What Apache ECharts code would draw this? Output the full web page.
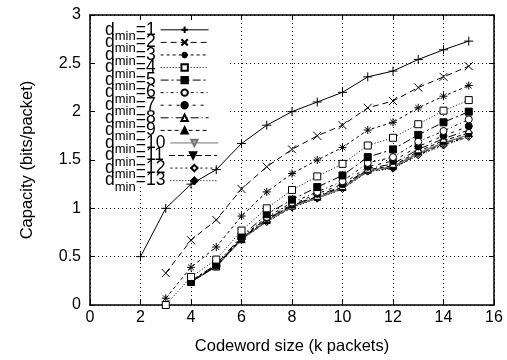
<!DOCTYPE html>
<html>
<head>
<meta charset="utf-8">
<script src="https://cdn.jsdelivr.net/npm/echarts@6/dist/echarts.min.js"></script>
<style>html,body{margin:0;padding:0;background:#fff;}#c{width:507px;height:360px;}</style>
</head>
<body>
<div id="c"></div>
<script>
// Codeword sizes (k packets)
const xFrom2 = [2,3,4,5,6,7,8,9,10,11,12,13,14,15];
const xFrom3 = [3,4,5,6,7,8,9,10,11,12,13,14,15];
const xFrom4 = [4,5,6,7,8,9,10,11,12,13,14,15];
const xTicks = [0,2,4,6,8,10,12,14,16];
const yTicks = [0,0.5,1,1.5,2,2.5,3];

const d1  = [0.5, 1.0, 1.25, 1.4, 1.67, 1.86, 2.0, 2.1, 2.2, 2.36, 2.42, 2.54, 2.64, 2.73];
const d2  = [0.33, 0.67, 0.88, 1.2, 1.43, 1.61, 1.75, 1.86, 2.04, 2.11, 2.25, 2.36, 2.47];
const d3  = [0.07, 0.39, 0.6, 0.92, 1.17, 1.36, 1.5, 1.63, 1.81, 1.89, 2.04, 2.16, 2.27];
const d4  = [0.0, 0.29, 0.47, 0.77, 1.0, 1.19, 1.33, 1.46, 1.65, 1.73, 1.87, 2.01, 2.12];
const d5  = [0.25, 0.42, 0.71, 0.94, 1.09, 1.22, 1.34, 1.53, 1.61, 1.76, 1.89, 2.0];
const d6  = [0.25, 0.41, 0.7, 0.91, 1.06, 1.17, 1.28, 1.47, 1.53, 1.69, 1.8, 1.92];
const d7  = [0.24, 0.41, 0.69, 0.9, 1.04, 1.15, 1.25, 1.43, 1.49, 1.64, 1.75, 1.85];
const d8  = [0.24, 0.4, 0.69, 0.89, 1.03, 1.13, 1.23, 1.41, 1.46, 1.61, 1.72, 1.81];
const d9  = [0.24, 0.4, 0.68, 0.88, 1.03, 1.12, 1.22, 1.4, 1.44, 1.59, 1.7, 1.78];
const d10 = [0.24, 0.4, 0.68, 0.87, 1.02, 1.11, 1.21, 1.39, 1.43, 1.57, 1.68, 1.76];
const d11 = [0.24, 0.4, 0.68, 0.87, 1.02, 1.11, 1.21, 1.39, 1.42, 1.56, 1.67, 1.75];
const d12 = [0.24, 0.4, 0.68, 0.86, 1.01, 1.11, 1.2, 1.38, 1.42, 1.55, 1.66, 1.74];
const d13 = [0.24, 0.4, 0.68, 0.86, 1.01, 1.1, 1.2, 1.38, 1.41, 1.55, 1.65, 1.74];

const seriesNames = ['1','2','3','4','5','6','7','8','9','10','11','12','13'];
const seriesX = [xFrom2, xFrom3, xFrom3, xFrom3, xFrom4, xFrom4, xFrom4, xFrom4, xFrom4, xFrom4, xFrom4, xFrom4, xFrom4];
const seriesY = [d1,d2,d3,d4,d5,d6,d7,d8,d9,d10,d11,d12,d13];

const PLUS = 'path://M5,0L5,10M0,5L10,5';
const CROSS = 'path://M0,0L10,10M10,0L0,10';
const STAR = 'path://M5,0L5,10M0,5L10,5M1.5,1.5L8.5,8.5M8.5,1.5L1.5,8.5';
const INVTRI = 'path://M0,0L10,0L5,9Z';

const styles = [
  {dash:'solid', sym:PLUS, size:9, fill:'none', stroke:true},
  {dash:[6,4], sym:CROSS, size:8, fill:'none', stroke:true},
  {dash:[3,3], sym:STAR, size:8, fill:'none', stroke:true},
  {dash:[1,2], sym:'rect', size:7, fill:'#fff'},
  {dash:[8,3,2,3], sym:'rect', size:7, fill:'#000'},
  {dash:[3,3,1,3], sym:'circle', size:7, fill:'#fff'},
  {dash:[3,5], sym:'circle', size:7, fill:'#000'},
  {dash:[8,3,1,3], sym:'triangle', size:7, fill:'#fff'},
  {dash:[4,3], sym:'triangle', size:7, fill:'#000'},
  {dash:'solid', sym:INVTRI, size:7, fill:'#aaa', color:'#777', width:1.5},
  {dash:[6,3], sym:INVTRI, size:7, fill:'#000'},
  {dash:[2,3], sym:'diamond', size:7, fill:'#fff'},
  {dash:[1,2], sym:'diamond', size:7, fill:'#000'}
];

const series = seriesNames.map((n, i) => {
  const s = styles[i];
  const c = s.color || '#000';
  return {
    name: n,
    type: 'line',
    data: seriesX[i].map((x, j) => [x, seriesY[i][j]]),
    symbol: s.sym,
    symbolSize: s.size,
    symbolKeepAspect: true,
    showAllSymbol: true,
    z: 20 - i,
    lineStyle: {color: c, width: s.width || 1, type: s.dash},
    itemStyle: {color: s.fill, borderColor: s.stroke ? '#000' : (s.color || '#000'), borderWidth: 1, opacity: 1},
    emphasis: {disabled: true},
    animation: false
  };
});

const FONT = 'Liberation Sans';
const KEY_TOP = 29.3, KEY_STEP = 12.57;
const legends = seriesNames.map((n, i) => ({
  orient: 'vertical',
  left: 105, top: KEY_TOP + i * KEY_STEP - 12.5,
  z: 4,
  align: 'right',
  itemWidth: 48, itemHeight: 8,
  padding: 0,
  data: [n],
  selectedMode: false,
  lineStyle: {width: 1},
  formatter: (nm) => '{d|d}{s|min}{d|=' + nm + '}',
  textStyle: {
    width: 62, align: 'right', color: '#000', fontFamily: FONT,
    rich: {
      d: {fontSize: 17.5, lineHeight: 12, fontFamily: FONT, color: '#000'},
      s: {fontSize: 13, lineHeight: 12, padding: [13, 0, 0, 0], fontFamily: FONT, color: '#000'}
    }
  }
}));

const chart = echarts.init(document.getElementById('c'), null, {renderer: 'canvas'});
chart.setOption({
  animation: false,
  backgroundColor: '#fff',
  textStyle: {fontFamily: FONT, color: '#000'},
  grid: {left: 90, right: 13, top: 15, bottom: 52, containLabel: false},
  graphic: [{
    type: 'rect', z: 1, silent: true,
    shape: {x: 95, y: 23, width: 133, height: 164},
    style: {fill: '#fff'}
  }],
  legend: legends,
  xAxis: [{
    type: 'value', min: 0, max: 16, interval: 2,
    name: 'Codeword size (k packets)', nameLocation: 'middle', nameGap: 33,
    nameTextStyle: {fontSize: 16.5, fontFamily: FONT, color: '#000'},
    axisLine: {show: true, onZero: false, lineStyle: {color: '#000', width: 1.5}},
    axisTick: {show: true, inside: true, length: 5, lineStyle: {color: '#000'}},
    axisLabel: {fontSize: 16, color: '#000', margin: 5, fontFamily: FONT,
      formatter: v => xTicks.includes(v) ? String(v) : ''},
    splitLine: {show: true, lineStyle: {color: '#000', type: [1, 3], width: 1}}
  }, {
    type: 'value', min: 0, max: 16, interval: 2, position: 'top',
    axisLine: {show: true, onZero: false, lineStyle: {color: '#000', width: 1.5}},
    axisTick: {show: true, inside: true, length: 5, lineStyle: {color: '#000'}},
    axisLabel: {show: false}, splitLine: {show: false}
  }],
  yAxis: [{
    type: 'value', min: 0, max: 3, interval: 0.5,
    name: 'Capacity (bits/packet)', nameLocation: 'middle', nameGap: 54,
    nameTextStyle: {fontSize: 16.5, fontFamily: FONT, color: '#000'},
    axisLine: {show: true, onZero: false, lineStyle: {color: '#000', width: 1.5}},
    axisTick: {show: true, inside: true, length: 5, lineStyle: {color: '#000'}},
    axisLabel: {fontSize: 16, color: '#000', margin: 9, fontFamily: FONT,
      formatter: v => yTicks.includes(v) ? String(v) : ''},
    splitLine: {show: true, lineStyle: {color: '#000', type: [1, 3], width: 1}}
  }, {
    type: 'value', min: 0, max: 3, interval: 0.5, position: 'right',
    axisLine: {show: true, onZero: false, lineStyle: {color: '#000', width: 1.5}},
    axisTick: {show: true, inside: true, length: 5, lineStyle: {color: '#000'}},
    axisLabel: {show: false}, splitLine: {show: false}
  }],
  series: series
});
</script>
</body>
</html>
